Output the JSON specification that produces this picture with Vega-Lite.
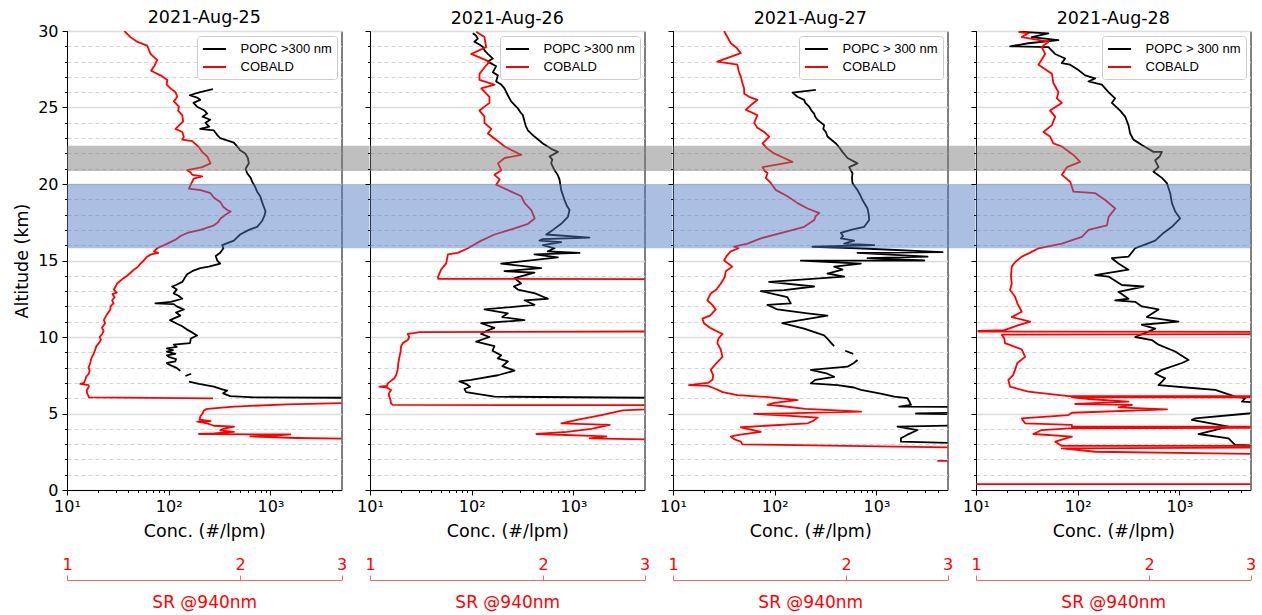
{
"$schema": "https://vega.github.io/schema/vega-lite/v6.json",
"background": "white",
"padding": {"left": 13, "top": 8, "right": 13, "bottom": 4},
"bounds": "flush",
"spacing": 28,
"config": {
  "font": "DejaVu Sans",
  "view": {"stroke": "black", "strokeWidth": 1},
  "axis": {"labelFont": "DejaVu Sans", "titleFont": "DejaVu Sans", "labelColor": "black", "titleColor": "black", "domainColor": "black", "tickColor": "black", "titleFontWeight": "normal", "labelFontSize": 16, "titleFontSize": 17.5},
  "title": {"font": "DejaVu Sans", "fontSize": 17.5, "fontWeight": "normal", "color": "black", "offset": 3}
},
"resolve": {"scale": {"color": "independent"}, "legend": {"color": "independent"}},
"datasets": {
"bands": [
{"d":25,"k":"g","a0":20.85,"a1":22.5,"c0":10,"c1":9430},{"d":25,"k":"b","a0":15.8,"a1":20.0,"c0":10,"c1":9430},
{"d":26,"k":"g","a0":20.85,"a1":22.5,"c0":10,"c1":9430},{"d":26,"k":"b","a0":15.8,"a1":20.0,"c0":10,"c1":9430},
{"d":27,"k":"g","a0":20.85,"a1":22.5,"c0":10,"c1":9430},{"d":27,"k":"b","a0":15.8,"a1":20.0,"c0":10,"c1":9430},
{"d":28,"k":"g","a0":20.85,"a1":22.5,"c0":10,"c1":5000},{"d":28,"k":"b","a0":15.8,"a1":20.0,"c0":10,"c1":5000}
],
"popc": [
{"d":25,"s":1,"a":26.2,"c":272},{"d":25,"s":1,"a":26.0,"c":204},{"d":25,"s":1,"a":25.8,"c":161},{"d":25,"s":1,"a":25.65,"c":190},{"d":25,"s":1,"a":25.5,"c":204},{"d":25,"s":1,"a":25.3,"c":175},{"d":25,"s":1,"a":25.05,"c":190},{"d":25,"s":1,"a":24.8,"c":225},{"d":25,"s":1,"a":24.6,"c":239},{"d":25,"s":1,"a":24.4,"c":215},{"d":25,"s":1,"a":24.2,"c":256},{"d":25,"s":1,"a":24.0,"c":230},{"d":25,"s":1,"a":23.75,"c":250},{"d":25,"s":1,"a":23.6,"c":204},{"d":25,"s":1,"a":23.5,"c":278},{"d":25,"s":1,"a":23.2,"c":300},{"d":25,"s":1,"a":23.0,"c":321},{"d":25,"s":1,"a":22.7,"c":437},{"d":25,"s":1,"a":22.4,"c":480},{"d":25,"s":1,"a":22.2,"c":504},{"d":25,"s":1,"a":22.0,"c":565},{"d":25,"s":1,"a":21.7,"c":600},{"d":25,"s":1,"a":21.35,"c":614},{"d":25,"s":1,"a":21.0,"c":570},{"d":25,"s":1,"a":20.7,"c":591},{"d":25,"s":1,"a":20.4,"c":640},{"d":25,"s":1,"a":20.15,"c":662},{"d":25,"s":1,"a":19.8,"c":709},{"d":25,"s":1,"a":19.5,"c":740},{"d":25,"s":1,"a":19.2,"c":794},{"d":25,"s":1,"a":18.8,"c":830},{"d":25,"s":1,"a":18.5,"c":863},{"d":25,"s":1,"a":18.2,"c":895},{"d":25,"s":1,"a":17.9,"c":870},{"d":25,"s":1,"a":17.6,"c":831},{"d":25,"s":1,"a":17.2,"c":741},{"d":25,"s":1,"a":17.0,"c":614},{"d":25,"s":1,"a":16.7,"c":504},{"d":25,"s":1,"a":16.3,"c":437},{"d":25,"s":1,"a":16.0,"c":336},{"d":25,"s":1,"a":15.8,"c":345},{"d":25,"s":1,"a":15.5,"c":321},{"d":25,"s":1,"a":15.3,"c":290},{"d":25,"s":1,"a":15.0,"c":300},{"d":25,"s":1,"a":14.8,"c":321},{"d":25,"s":1,"a":14.6,"c":248},{"d":25,"s":1,"a":14.5,"c":204},{"d":25,"s":1,"a":14.3,"c":170},{"d":25,"s":1,"a":14.1,"c":152},{"d":25,"s":1,"a":13.9,"c":145},{"d":25,"s":1,"a":13.6,"c":136},{"d":25,"s":1,"a":13.4,"c":118},{"d":25,"s":1,"a":13.3,"c":108},{"d":25,"s":1,"a":13.1,"c":120},{"d":25,"s":1,"a":12.85,"c":112},{"d":25,"s":1,"a":12.7,"c":125},{"d":25,"s":1,"a":12.5,"c":136},{"d":25,"s":1,"a":12.3,"c":105},{"d":25,"s":1,"a":12.2,"c":74},{"d":25,"s":1,"a":12.15,"c":112},{"d":25,"s":1,"a":12.0,"c":120},{"d":25,"s":1,"a":11.8,"c":141},{"d":25,"s":1,"a":11.6,"c":118},{"d":25,"s":1,"a":11.4,"c":130},{"d":25,"s":1,"a":11.1,"c":103},{"d":25,"s":1,"a":10.9,"c":118},{"d":25,"s":1,"a":10.7,"c":136},{"d":25,"s":1,"a":10.5,"c":150},{"d":25,"s":1,"a":10.3,"c":170},{"d":25,"s":1,"a":10.1,"c":190},{"d":25,"s":1,"a":9.9,"c":165},{"d":25,"s":1,"a":9.6,"c":162},{"d":25,"s":1,"a":9.5,"c":112},{"d":25,"s":1,"a":9.35,"c":120},{"d":25,"s":1,"a":9.25,"c":96},{"d":25,"s":1,"a":9.15,"c":110},{"d":25,"s":1,"a":9.05,"c":96},{"d":25,"s":1,"a":8.9,"c":116},{"d":25,"s":1,"a":8.8,"c":96},{"d":25,"s":1,"a":8.7,"c":100},{"d":25,"s":1,"a":8.55,"c":118},{"d":25,"s":1,"a":8.4,"c":116},{"d":25,"s":1,"a":8.3,"c":96},{"d":25,"s":1,"a":8.2,"c":100},{"d":25,"s":1,"a":8.0,"c":118},{"d":25,"s":1,"a":7.8,"c":130},
{"d":25,"s":2,"a":7.45,"c":146},{"d":25,"s":2,"a":7.6,"c":166},
{"d":25,"s":3,"a":7.08,"c":158},{"d":25,"s":3,"a":6.93,"c":198},{"d":25,"s":3,"a":6.75,"c":278},{"d":25,"s":3,"a":6.58,"c":336},{"d":25,"s":3,"a":6.5,"c":376},{"d":25,"s":3,"a":6.32,"c":343},{"d":25,"s":3,"a":6.14,"c":402},{"d":25,"s":3,"a":6.06,"c":688},{"d":25,"s":3,"a":6.01,"c":20000},
{"d":26,"s":1,"a":29.85,"c":102.5},{"d":26,"s":1,"a":29.7,"c":110},{"d":26,"s":1,"a":29.5,"c":114.8},{"d":26,"s":1,"a":29.3,"c":106.3},{"d":26,"s":1,"a":29.1,"c":120},{"d":26,"s":1,"a":28.95,"c":128.6},{"d":26,"s":1,"a":28.7,"c":135},{"d":26,"s":1,"a":28.5,"c":144},{"d":26,"s":1,"a":28.2,"c":161.3},{"d":26,"s":1,"a":28.0,"c":144},{"d":26,"s":1,"a":27.7,"c":173.9},{"d":26,"s":1,"a":27.3,"c":161.3},{"d":26,"s":1,"a":27.1,"c":180.7},{"d":26,"s":1,"a":26.7,"c":173.9},{"d":26,"s":1,"a":26.5,"c":195},{"d":26,"s":1,"a":26.25,"c":209.8},{"d":26,"s":1,"a":25.8,"c":226.6},{"d":26,"s":1,"a":25.4,"c":244.2},{"d":26,"s":1,"a":24.95,"c":284.3},{"d":26,"s":1,"a":24.7,"c":300},{"d":26,"s":1,"a":24.5,"c":318.4},{"d":26,"s":1,"a":24.1,"c":330.1},{"d":26,"s":1,"a":23.8,"c":340},{"d":26,"s":1,"a":23.5,"c":356.6},{"d":26,"s":1,"a":23.1,"c":414.1},{"d":26,"s":1,"a":22.65,"c":501},{"d":26,"s":1,"a":22.3,"c":604.7},{"d":26,"s":1,"a":22.1,"c":703.9},{"d":26,"s":1,"a":21.8,"c":582},{"d":26,"s":1,"a":21.6,"c":620},{"d":26,"s":1,"a":21.35,"c":604.7},{"d":26,"s":1,"a":20.9,"c":651.6},{"d":26,"s":1,"a":20.6,"c":700},{"d":26,"s":1,"a":20.3,"c":729.8},{"d":26,"s":1,"a":19.6,"c":758.5},{"d":26,"s":1,"a":18.95,"c":817.6},{"d":26,"s":1,"a":18.6,"c":860},{"d":26,"s":1,"a":18.3,"c":915.4},{"d":26,"s":1,"a":17.85,"c":882.8},{"d":26,"s":1,"a":17.4,"c":758.5},{"d":26,"s":1,"a":17.0,"c":628.3},{"d":26,"s":1,"a":16.7,"c":540},{"d":26,"s":1,"a":16.5,"c":1440},{"d":26,"s":1,"a":16.4,"c":500},{"d":26,"s":1,"a":16.3,"c":463.8},{"d":26,"s":1,"a":16.2,"c":758.5},{"d":26,"s":1,"a":16.0,"c":501},{"d":26,"s":1,"a":15.8,"c":651.6},{"d":26,"s":1,"a":15.6,"c":560},{"d":26,"s":1,"a":15.5,"c":1148},{"d":26,"s":1,"a":15.4,"c":414.1},{"d":26,"s":1,"a":15.2,"c":703.9},{"d":26,"s":1,"a":14.8,"c":194.7},{"d":26,"s":1,"a":14.5,"c":482.1},{"d":26,"s":1,"a":14.3,"c":209.8},{"d":26,"s":1,"a":14.2,"c":414.1},{"d":26,"s":1,"a":13.85,"c":263.2},{"d":26,"s":1,"a":13.5,"c":306.4},{"d":26,"s":1,"a":13.3,"c":260},{"d":26,"s":1,"a":13.1,"c":284.3},{"d":26,"s":1,"a":12.85,"c":420},{"d":26,"s":1,"a":12.5,"c":561},{"d":26,"s":1,"a":12.4,"c":330.1},{"d":26,"s":1,"a":12.1,"c":414.1},{"d":26,"s":1,"a":11.8,"c":133.4},{"d":26,"s":1,"a":11.55,"c":226.6},{"d":26,"s":1,"a":11.3,"c":200},{"d":26,"s":1,"a":11.1,"c":330.1},{"d":26,"s":1,"a":10.9,"c":123.7},{"d":26,"s":1,"a":10.6,"c":167.3},{"d":26,"s":1,"a":10.4,"c":140},{"d":26,"s":1,"a":10.2,"c":123.7},{"d":26,"s":1,"a":10.0,"c":149.4},{"d":26,"s":1,"a":9.7,"c":110.5},{"d":26,"s":1,"a":9.4,"c":167.3},{"d":26,"s":1,"a":9.1,"c":160},{"d":26,"s":1,"a":8.8,"c":194.7},{"d":26,"s":1,"a":8.6,"c":180},{"d":26,"s":1,"a":8.4,"c":226.6},{"d":26,"s":1,"a":8.1,"c":200},{"d":26,"s":1,"a":7.8,"c":263.2},{"d":26,"s":1,"a":7.5,"c":180.7},{"d":26,"s":1,"a":7.3,"c":120},{"d":26,"s":1,"a":7.2,"c":98.6},{"d":26,"s":1,"a":7.1,"c":75.7},{"d":26,"s":1,"a":6.9,"c":90},{"d":26,"s":1,"a":6.75,"c":96.4},{"d":26,"s":1,"a":6.6,"c":85},{"d":26,"s":1,"a":6.4,"c":88.1},{"d":26,"s":1,"a":6.1,"c":167.3},{"d":26,"s":1,"a":6.0,"c":20000},
{"d":27,"s":1,"a":26.15,"c":253.8},{"d":27,"s":1,"a":25.97,"c":149.4},{"d":27,"s":1,"a":25.7,"c":167.3},{"d":27,"s":1,"a":25.5,"c":194.7},{"d":27,"s":1,"a":25.3,"c":200},{"d":27,"s":1,"a":25.05,"c":218.1},{"d":27,"s":1,"a":24.8,"c":230},{"d":27,"s":1,"a":24.6,"c":244.2},{"d":27,"s":1,"a":24.4,"c":250},{"d":27,"s":1,"a":24.2,"c":263.2},{"d":27,"s":1,"a":23.85,"c":306.4},{"d":27,"s":1,"a":23.6,"c":300},{"d":27,"s":1,"a":23.4,"c":318.4},{"d":27,"s":1,"a":23.1,"c":330.1},{"d":27,"s":1,"a":22.65,"c":399.4},{"d":27,"s":1,"a":22.4,"c":430},{"d":27,"s":1,"a":22.1,"c":463.8},{"d":27,"s":1,"a":21.7,"c":519.6},{"d":27,"s":1,"a":21.35,"c":651.6},{"d":27,"s":1,"a":21.1,"c":540},{"d":27,"s":1,"a":20.9,"c":560},{"d":27,"s":1,"a":20.7,"c":582},{"d":27,"s":1,"a":20.4,"c":575},{"d":27,"s":1,"a":20.05,"c":582},{"d":27,"s":1,"a":19.6,"c":651.6},{"d":27,"s":1,"a":19.3,"c":690},{"d":27,"s":1,"a":18.95,"c":729.8},{"d":27,"s":1,"a":18.4,"c":817.6},{"d":27,"s":1,"a":18.0,"c":840},{"d":27,"s":1,"a":17.65,"c":849.4},{"d":27,"s":1,"a":17.2,"c":758.5},{"d":27,"s":1,"a":17.0,"c":561},{"d":27,"s":1,"a":16.8,"c":447.3},{"d":27,"s":1,"a":16.6,"c":470},{"d":27,"s":1,"a":16.45,"c":447.3},{"d":27,"s":1,"a":16.3,"c":604.7},{"d":27,"s":1,"a":16.1,"c":482.1},{"d":27,"s":1,"a":16.0,"c":951.3},{"d":27,"s":1,"a":15.9,"c":235},{"d":27,"s":1,"a":15.8,"c":651.6},{"d":27,"s":1,"a":15.55,"c":4474},{"d":27,"s":1,"a":15.5,"c":651.6},{"d":27,"s":1,"a":15.25,"c":3184},{"d":27,"s":1,"a":15.15,"c":817.6},{"d":27,"s":1,"a":15.0,"c":2954},{"d":27,"s":1,"a":14.99,"c":180.7},{"d":27,"s":1,"a":14.8,"c":703.9},{"d":27,"s":1,"a":14.6,"c":384.2},{"d":27,"s":1,"a":14.4,"c":463.8},{"d":27,"s":1,"a":14.15,"c":330.1},{"d":27,"s":1,"a":13.95,"c":482.1},{"d":27,"s":1,"a":13.6,"c":88.1},{"d":27,"s":1,"a":13.3,"c":244.2},{"d":27,"s":1,"a":13.07,"c":123.7},{"d":27,"s":1,"a":13.0,"c":73},{"d":27,"s":1,"a":12.6,"c":133.4},{"d":27,"s":1,"a":12.2,"c":144},{"d":27,"s":1,"a":12.1,"c":84.8},{"d":27,"s":1,"a":11.8,"c":106.3},{"d":27,"s":1,"a":11.55,"c":209.8},{"d":27,"s":1,"a":11.4,"c":330.1},{"d":27,"s":1,"a":10.9,"c":119.1},{"d":27,"s":1,"a":10.55,"c":194.7},{"d":27,"s":1,"a":10.3,"c":250},{"d":27,"s":1,"a":10.1,"c":306.4},{"d":27,"s":1,"a":9.8,"c":340},{"d":27,"s":1,"a":9.6,"c":360},{"d":27,"s":1,"a":9.4,"c":384.2},
{"d":27,"s":2,"a":9.1,"c":493.1},{"d":27,"s":2,"a":8.9,"c":592},
{"d":27,"s":3,"a":8.5,"c":651.6},{"d":27,"s":3,"a":8.3,"c":600},{"d":27,"s":3,"a":8.06,"c":519.6},{"d":27,"s":3,"a":7.85,"c":226.6},{"d":27,"s":3,"a":7.6,"c":330},{"d":27,"s":3,"a":7.4,"c":384.2},{"d":27,"s":3,"a":7.2,"c":250},{"d":27,"s":3,"a":6.97,"c":226.6},{"d":27,"s":3,"a":6.86,"c":414.1},{"d":27,"s":3,"a":6.7,"c":600},{"d":27,"s":3,"a":6.54,"c":703.9},{"d":27,"s":3,"a":6.3,"c":1100},{"d":27,"s":3,"a":6.1,"c":1497},{"d":27,"s":3,"a":6.0,"c":2023},{"d":27,"s":3,"a":5.8,"c":2100},{"d":27,"s":3,"a":5.56,"c":2185},{"d":27,"s":3,"a":5.45,"c":1676},{"d":27,"s":3,"a":5.4,"c":20000},{"d":27,"s":3,"a":5.1,"c":20000},{"d":27,"s":3,"a":5.0,"c":2448},{"d":27,"s":3,"a":4.9,"c":20000},{"d":27,"s":3,"a":4.3,"c":20000},{"d":27,"s":3,"a":4.14,"c":1614},{"d":27,"s":3,"a":3.92,"c":2538},{"d":27,"s":3,"a":3.6,"c":2000},{"d":27,"s":3,"a":3.38,"c":1742},{"d":27,"s":3,"a":3.16,"c":1742},{"d":27,"s":3,"a":2.98,"c":20000},
{"d":28,"s":1,"a":29.95,"c":27.1},{"d":28,"s":1,"a":29.85,"c":51.5},{"d":28,"s":1,"a":29.6,"c":35.3},{"d":28,"s":1,"a":29.4,"c":64.6},{"d":28,"s":1,"a":29.2,"c":32.7},{"d":28,"s":1,"a":29.0,"c":21.6},{"d":28,"s":1,"a":28.95,"c":51.5},{"d":28,"s":1,"a":28.5,"c":59.9},{"d":28,"s":1,"a":28.2,"c":75.2},{"d":28,"s":1,"a":27.9,"c":69.7},{"d":28,"s":1,"a":27.8,"c":84.2},{"d":28,"s":1,"a":27.45,"c":101.6},{"d":28,"s":1,"a":27.1,"c":118.3},{"d":28,"s":1,"a":26.9,"c":148.3},{"d":28,"s":1,"a":26.7,"c":127.5},{"d":28,"s":1,"a":26.5,"c":172.7},{"d":28,"s":1,"a":26.0,"c":200.5},{"d":28,"s":1,"a":25.6,"c":233.4},{"d":28,"s":1,"a":25.3,"c":216.6},{"d":28,"s":1,"a":24.8,"c":261.4},{"d":28,"s":1,"a":24.4,"c":292.8},{"d":28,"s":1,"a":23.85,"c":315.5},{"d":28,"s":1,"a":23.3,"c":327.9},{"d":28,"s":1,"a":22.9,"c":353.4},{"d":28,"s":1,"a":22.55,"c":427.4},{"d":28,"s":1,"a":22.1,"c":556},{"d":28,"s":1,"a":22.1,"c":672.8},{"d":28,"s":1,"a":21.8,"c":640},{"d":28,"s":1,"a":21.55,"c":578},{"d":28,"s":1,"a":21.1,"c":622.8},{"d":28,"s":1,"a":20.8,"c":556},{"d":28,"s":1,"a":20.4,"c":672.8},{"d":28,"s":1,"a":20.05,"c":753.4},{"d":28,"s":1,"a":19.4,"c":812},{"d":28,"s":1,"a":18.75,"c":843.9},{"d":28,"s":1,"a":18.2,"c":909.3},{"d":28,"s":1,"a":17.75,"c":1018},{"d":28,"s":1,"a":17.2,"c":843.9},{"d":28,"s":1,"a":16.8,"c":697.5},{"d":28,"s":1,"a":16.3,"c":578},{"d":28,"s":1,"a":16.0,"c":443.3},{"d":28,"s":1,"a":15.8,"c":367.3},{"d":28,"s":1,"a":15.25,"c":315.5},{"d":28,"s":1,"a":15.15,"c":216.6},{"d":28,"s":1,"a":14.8,"c":251.5},{"d":28,"s":1,"a":14.4,"c":315.5},{"d":28,"s":1,"a":14.05,"c":148.3},{"d":28,"s":1,"a":13.95,"c":200.5},{"d":28,"s":1,"a":13.4,"c":271.6},{"d":28,"s":1,"a":13.3,"c":443.3},{"d":28,"s":1,"a":12.95,"c":251.5},{"d":28,"s":1,"a":12.5,"c":315.5},{"d":28,"s":1,"a":12.4,"c":233.4},{"d":28,"s":1,"a":12.3,"c":367.3},{"d":28,"s":1,"a":12.0,"c":427.4},{"d":28,"s":1,"a":11.8,"c":622.8},{"d":28,"s":1,"a":11.3,"c":478.7},{"d":28,"s":1,"a":11.0,"c":979.8},{"d":28,"s":1,"a":10.8,"c":427.4},{"d":28,"s":1,"a":10.55,"c":578},{"d":28,"s":1,"a":10.35,"c":496.4},{"d":28,"s":1,"a":10.0,"c":367.3},{"d":28,"s":1,"a":9.8,"c":536.3},{"d":28,"s":1,"a":9.5,"c":622.8},{"d":28,"s":1,"a":9.05,"c":909.3},{"d":28,"s":1,"a":8.5,"c":1229},{"d":28,"s":1,"a":8.3,"c":1058},{"d":28,"s":1,"a":7.85,"c":672.8},{"d":28,"s":1,"a":7.6,"c":578},{"d":28,"s":1,"a":7.3,"c":724.7},{"d":28,"s":1,"a":6.86,"c":622.8},{"d":28,"s":1,"a":6.65,"c":1431},{"d":28,"s":1,"a":6.54,"c":2251},{"d":28,"s":1,"a":6.1,"c":3541},{"d":28,"s":1,"a":6.0,"c":4443},{"d":28,"s":1,"a":5.77,"c":4124},{"d":28,"s":1,"a":5.56,"c":20000},{"d":28,"s":1,"a":5.1,"c":20000},{"d":28,"s":1,"a":5.0,"c":4756},{"d":28,"s":1,"a":4.68,"c":1431},{"d":28,"s":1,"a":4.58,"c":1327},{"d":28,"s":1,"a":4.14,"c":3042},{"d":28,"s":1,"a":3.66,"c":1542},{"d":28,"s":1,"a":3.38,"c":3042},{"d":28,"s":1,"a":2.94,"c":3541},{"d":28,"s":1,"a":2.83,"c":20000}
],
"cobald": [
{"d":25,"s":1,"a":30.0,"r":1.258},{"d":25,"s":1,"a":29.6,"r":1.289},{"d":25,"s":1,"a":29.3,"r":1.324},{"d":25,"s":1,"a":29.05,"r":1.378},{"d":25,"s":1,"a":28.5,"r":1.397},{"d":25,"s":1,"a":28.1,"r":1.435},{"d":25,"s":1,"a":27.75,"r":1.42},{"d":25,"s":1,"a":27.4,"r":1.4},{"d":25,"s":1,"a":27.1,"r":1.454},{"d":25,"s":1,"a":26.8,"r":1.494},{"d":25,"s":1,"a":26.5,"r":1.49},{"d":25,"s":1,"a":26.25,"r":1.513},{"d":25,"s":1,"a":26.0,"r":1.544},{"d":25,"s":1,"a":25.7,"r":1.555},{"d":25,"s":1,"a":25.4,"r":1.534},{"d":25,"s":1,"a":25.05,"r":1.565},{"d":25,"s":1,"a":24.8,"r":1.56},{"d":25,"s":1,"a":24.5,"r":1.586},{"d":25,"s":1,"a":24.1,"r":1.592},{"d":25,"s":1,"a":23.6,"r":1.544},{"d":25,"s":1,"a":23.4,"r":1.586},{"d":25,"s":1,"a":23.1,"r":1.596},{"d":25,"s":1,"a":22.9,"r":1.586},{"d":25,"s":1,"a":22.8,"r":1.651},{"d":25,"s":1,"a":22.4,"r":1.696},{"d":25,"s":1,"a":22.1,"r":1.718},{"d":25,"s":1,"a":21.8,"r":1.753},{"d":25,"s":1,"a":21.35,"r":1.776},{"d":25,"s":1,"a":21.1,"r":1.718},{"d":25,"s":1,"a":20.9,"r":1.618},{"d":25,"s":1,"a":20.75,"r":1.64},{"d":25,"s":1,"a":20.6,"r":1.651},{"d":25,"s":1,"a":20.5,"r":1.718},{"d":25,"s":1,"a":20.35,"r":1.66},{"d":25,"s":1,"a":20.15,"r":1.651},{"d":25,"s":1,"a":19.7,"r":1.629},{"d":25,"s":1,"a":19.6,"r":1.707},{"d":25,"s":1,"a":19.4,"r":1.776},{"d":25,"s":1,"a":19.1,"r":1.801},{"d":25,"s":1,"a":18.8,"r":1.849},{"d":25,"s":1,"a":18.5,"r":1.87},{"d":25,"s":1,"a":18.3,"r":1.899},{"d":25,"s":1,"a":18.2,"r":1.925},{"d":25,"s":1,"a":17.95,"r":1.88},{"d":25,"s":1,"a":17.75,"r":1.849},{"d":25,"s":1,"a":17.5,"r":1.83},{"d":25,"s":1,"a":17.3,"r":1.801},{"d":25,"s":1,"a":17.0,"r":1.707},{"d":25,"s":1,"a":16.8,"r":1.618},{"d":25,"s":1,"a":16.6,"r":1.575},{"d":25,"s":1,"a":16.4,"r":1.55},{"d":25,"s":1,"a":16.1,"r":1.494},{"d":25,"s":1,"a":15.8,"r":1.435},{"d":25,"s":1,"a":15.6,"r":1.416},{"d":25,"s":1,"a":15.5,"r":1.44},{"d":25,"s":1,"a":15.4,"r":1.4},{"d":25,"s":1,"a":15.25,"r":1.378},{"d":25,"s":1,"a":15.0,"r":1.36},{"d":25,"s":1,"a":14.8,"r":1.342},{"d":25,"s":1,"a":14.6,"r":1.33},{"d":25,"s":1,"a":14.4,"r":1.307},{"d":25,"s":1,"a":14.2,"r":1.29},{"d":25,"s":1,"a":14.0,"r":1.272},{"d":25,"s":1,"a":13.8,"r":1.25},{"d":25,"s":1,"a":13.5,"r":1.222},{"d":25,"s":1,"a":13.3,"r":1.215},{"d":25,"s":1,"a":13.1,"r":1.206},{"d":25,"s":1,"a":12.9,"r":1.22},{"d":25,"s":1,"a":12.8,"r":1.2},{"d":25,"s":1,"a":12.6,"r":1.21},{"d":25,"s":1,"a":12.4,"r":1.198},{"d":25,"s":1,"a":12.2,"r":1.205},{"d":25,"s":1,"a":12.0,"r":1.19},{"d":25,"s":1,"a":11.8,"r":1.19},{"d":25,"s":1,"a":11.6,"r":1.18},{"d":25,"s":1,"a":11.4,"r":1.17},{"d":25,"s":1,"a":11.1,"r":1.159},{"d":25,"s":1,"a":10.9,"r":1.165},{"d":25,"s":1,"a":10.6,"r":1.15},{"d":25,"s":1,"a":10.4,"r":1.158},{"d":25,"s":1,"a":10.2,"r":1.151},{"d":25,"s":1,"a":10.0,"r":1.14},{"d":25,"s":1,"a":9.8,"r":1.145},{"d":25,"s":1,"a":9.6,"r":1.136},{"d":25,"s":1,"a":9.4,"r":1.125},{"d":25,"s":1,"a":9.2,"r":1.12},{"d":25,"s":1,"a":8.9,"r":1.113},{"d":25,"s":1,"a":8.7,"r":1.105},{"d":25,"s":1,"a":8.5,"r":1.1},{"d":25,"s":1,"a":8.3,"r":1.098},{"d":25,"s":1,"a":8.0,"r":1.09},{"d":25,"s":1,"a":7.8,"r":1.095},{"d":25,"s":1,"a":7.6,"r":1.091},{"d":25,"s":1,"a":7.4,"r":1.08},{"d":25,"s":1,"a":7.2,"r":1.076},{"d":25,"s":1,"a":7.0,"r":1.07},{"d":25,"s":1,"a":6.93,"r":1.055},{"d":25,"s":1,"a":6.85,"r":1.09},{"d":25,"s":1,"a":6.75,"r":1.091},{"d":25,"s":1,"a":6.5,"r":1.082},{"d":25,"s":1,"a":6.3,"r":1.084},{"d":25,"s":1,"a":6.15,"r":1.09},{"d":25,"s":1,"a":6.06,"r":1.091},{"d":25,"s":1,"a":5.99,"r":1.794},
{"d":25,"s":2,"a":5.77,"r":4},{"d":25,"s":2,"a":5.6,"r":2.414},{"d":25,"s":2,"a":5.45,"r":1.951},{"d":25,"s":2,"a":5.3,"r":1.753},{"d":25,"s":2,"a":5.2,"r":1.73},{"d":25,"s":2,"a":5.0,"r":1.72},{"d":25,"s":2,"a":4.8,"r":1.705},{"d":25,"s":2,"a":4.6,"r":1.7},{"d":25,"s":2,"a":4.5,"r":1.776},{"d":25,"s":2,"a":4.47,"r":1.684},{"d":25,"s":2,"a":4.35,"r":1.753},{"d":25,"s":2,"a":4.2,"r":1.8},{"d":25,"s":2,"a":4.14,"r":1.951},{"d":25,"s":2,"a":4.0,"r":1.87},{"d":25,"s":2,"a":3.9,"r":1.847},{"d":25,"s":2,"a":3.8,"r":1.951},{"d":25,"s":2,"a":3.7,"r":1.8},{"d":25,"s":2,"a":3.66,"r":1.696},{"d":25,"s":2,"a":3.63,"r":2.445},{"d":25,"s":2,"a":3.55,"r":2.3},{"d":25,"s":2,"a":3.5,"r":2.083},{"d":25,"s":2,"a":3.4,"r":2.5},{"d":25,"s":2,"a":3.3,"r":4},
{"d":26,"s":1,"a":29.95,"r":1.53},{"d":26,"s":1,"a":29.6,"r":1.581},{"d":26,"s":1,"a":28.95,"r":1.592},{"d":26,"s":1,"a":28.5,"r":1.499},{"d":26,"s":1,"a":28.0,"r":1.613},{"d":26,"s":1,"a":27.6,"r":1.58},{"d":26,"s":1,"a":27.2,"r":1.55},{"d":26,"s":1,"a":26.8,"r":1.55},{"d":26,"s":1,"a":26.5,"r":1.646},{"d":26,"s":1,"a":26.25,"r":1.561},{"d":26,"s":1,"a":25.7,"r":1.613},{"d":26,"s":1,"a":25.3,"r":1.613},{"d":26,"s":1,"a":24.8,"r":1.55},{"d":26,"s":1,"a":24.4,"r":1.581},{"d":26,"s":1,"a":24.0,"r":1.581},{"d":26,"s":1,"a":23.6,"r":1.625},{"d":26,"s":1,"a":23.3,"r":1.603},{"d":26,"s":1,"a":22.8,"r":1.669},{"d":26,"s":1,"a":22.45,"r":1.714},{"d":26,"s":1,"a":22.0,"r":1.808},{"d":26,"s":1,"a":21.9,"r":1.832},{"d":26,"s":1,"a":21.7,"r":1.714},{"d":26,"s":1,"a":21.35,"r":1.669},{"d":26,"s":1,"a":20.9,"r":1.691},{"d":26,"s":1,"a":20.6,"r":1.646},{"d":26,"s":1,"a":20.3,"r":1.68},{"d":26,"s":1,"a":19.95,"r":1.657},{"d":26,"s":1,"a":19.5,"r":1.76},{"d":26,"s":1,"a":19.2,"r":1.832},{"d":26,"s":1,"a":18.75,"r":1.857},{"d":26,"s":1,"a":18.3,"r":1.907},{"d":26,"s":1,"a":17.75,"r":1.933},{"d":26,"s":1,"a":17.4,"r":1.882},{"d":26,"s":1,"a":17.1,"r":1.784},{"d":26,"s":1,"a":16.7,"r":1.646},{"d":26,"s":1,"a":16.3,"r":1.561},{"d":26,"s":1,"a":15.8,"r":1.48},{"d":26,"s":1,"a":15.5,"r":1.421},{"d":26,"s":1,"a":15.4,"r":1.366},{"d":26,"s":1,"a":14.8,"r":1.356},{"d":26,"s":1,"a":14.4,"r":1.329},{"d":26,"s":1,"a":13.9,"r":1.312},{"d":26,"s":1,"a":13.8,"r":1.315},{"d":26,"s":1,"a":13.78,"r":4},{"d":26,"s":1,"a":10.37,"r":4},{"d":26,"s":1,"a":10.32,"r":1.219},{"d":26,"s":1,"a":10.25,"r":1.19},{"d":26,"s":1,"a":10.2,"r":1.163},{"d":26,"s":1,"a":10.0,"r":1.17},{"d":26,"s":1,"a":9.8,"r":1.163},{"d":26,"s":1,"a":9.6,"r":1.14},{"d":26,"s":1,"a":9.37,"r":1.132},{"d":26,"s":1,"a":9.0,"r":1.13},{"d":26,"s":1,"a":8.7,"r":1.125},{"d":26,"s":1,"a":8.3,"r":1.12},{"d":26,"s":1,"a":7.85,"r":1.117},{"d":26,"s":1,"a":7.5,"r":1.11},{"d":26,"s":1,"a":7.3,"r":1.102},{"d":26,"s":1,"a":7.1,"r":1.085},{"d":26,"s":1,"a":6.97,"r":1.074},{"d":26,"s":1,"a":6.8,"r":1.07},{"d":26,"s":1,"a":6.75,"r":1.038},{"d":26,"s":1,"a":6.7,"r":1.07},{"d":26,"s":1,"a":6.54,"r":1.088},{"d":26,"s":1,"a":6.3,"r":1.078},{"d":26,"s":1,"a":6.1,"r":1.08},{"d":26,"s":1,"a":5.9,"r":1.085},{"d":26,"s":1,"a":5.66,"r":1.088},{"d":26,"s":1,"a":5.56,"r":1.095},{"d":26,"s":1,"a":5.54,"r":4},{"d":26,"s":1,"a":5.47,"r":4},{"d":26,"s":1,"a":5.2,"r":2.75},{"d":26,"s":1,"a":4.9,"r":2.525},{"d":26,"s":1,"a":4.6,"r":2.3},{"d":26,"s":1,"a":4.36,"r":2.151},{"d":26,"s":1,"a":4.25,"r":2.611},{"d":26,"s":1,"a":4.0,"r":2.426},{"d":26,"s":1,"a":3.8,"r":2.2},{"d":26,"s":1,"a":3.66,"r":1.946},{"d":26,"s":1,"a":3.5,"r":2.576},{"d":26,"s":1,"a":3.38,"r":2.409},{"d":26,"s":1,"a":3.22,"r":4},
{"d":27,"s":1,"a":30.0,"r":1.227},{"d":27,"s":1,"a":29.2,"r":1.26},{"d":27,"s":1,"a":28.9,"r":1.29},{"d":27,"s":1,"a":28.55,"r":1.312},{"d":27,"s":1,"a":28.0,"r":1.194},{"d":27,"s":1,"a":27.8,"r":1.294},{"d":27,"s":1,"a":27.4,"r":1.3},{"d":27,"s":1,"a":27.0,"r":1.312},{"d":27,"s":1,"a":26.6,"r":1.32},{"d":27,"s":1,"a":26.25,"r":1.329},{"d":27,"s":1,"a":25.9,"r":1.33},{"d":27,"s":1,"a":25.7,"r":1.356},{"d":27,"s":1,"a":25.5,"r":1.402},{"d":27,"s":1,"a":25.2,"r":1.37},{"d":27,"s":1,"a":24.85,"r":1.338},{"d":27,"s":1,"a":24.5,"r":1.402},{"d":27,"s":1,"a":24.0,"r":1.384},{"d":27,"s":1,"a":23.7,"r":1.4},{"d":27,"s":1,"a":23.4,"r":1.44},{"d":27,"s":1,"a":23.1,"r":1.47},{"d":27,"s":1,"a":22.65,"r":1.431},{"d":27,"s":1,"a":22.3,"r":1.46},{"d":27,"s":1,"a":22.0,"r":1.499},{"d":27,"s":1,"a":21.7,"r":1.56},{"d":27,"s":1,"a":21.45,"r":1.613},{"d":27,"s":1,"a":21.1,"r":1.431},{"d":27,"s":1,"a":20.9,"r":1.44},{"d":27,"s":1,"a":20.7,"r":1.46},{"d":27,"s":1,"a":20.4,"r":1.45},{"d":27,"s":1,"a":20.05,"r":1.48},{"d":27,"s":1,"a":19.6,"r":1.51},{"d":27,"s":1,"a":19.2,"r":1.581},{"d":27,"s":1,"a":18.75,"r":1.646},{"d":27,"s":1,"a":18.4,"r":1.714},{"d":27,"s":1,"a":18.1,"r":1.796},{"d":27,"s":1,"a":17.9,"r":1.77},{"d":27,"s":1,"a":17.65,"r":1.76},{"d":27,"s":1,"a":17.2,"r":1.691},{"d":27,"s":1,"a":16.9,"r":1.581},{"d":27,"s":1,"a":16.45,"r":1.421},{"d":27,"s":1,"a":16.1,"r":1.347},{"d":27,"s":1,"a":15.9,"r":1.277},{"d":27,"s":1,"a":15.8,"r":1.3},{"d":27,"s":1,"a":15.6,"r":1.26},{"d":27,"s":1,"a":15.3,"r":1.24},{"d":27,"s":1,"a":15.0,"r":1.227},{"d":27,"s":1,"a":14.6,"r":1.268},{"d":27,"s":1,"a":14.3,"r":1.235},{"d":27,"s":1,"a":13.9,"r":1.23},{"d":27,"s":1,"a":13.5,"r":1.211},{"d":27,"s":1,"a":13.1,"r":1.19},{"d":27,"s":1,"a":12.85,"r":1.163},{"d":27,"s":1,"a":12.4,"r":1.147},{"d":27,"s":1,"a":12.1,"r":1.17},{"d":27,"s":1,"a":11.8,"r":1.187},{"d":27,"s":1,"a":11.4,"r":1.16},{"d":27,"s":1,"a":11.2,"r":1.125},{"d":27,"s":1,"a":10.9,"r":1.132},{"d":27,"s":1,"a":10.6,"r":1.16},{"d":27,"s":1,"a":10.2,"r":1.219},{"d":27,"s":1,"a":9.9,"r":1.2},{"d":27,"s":1,"a":9.6,"r":1.194},{"d":27,"s":1,"a":9.2,"r":1.21},{"d":27,"s":1,"a":8.7,"r":1.219},{"d":27,"s":1,"a":8.3,"r":1.19},{"d":27,"s":1,"a":7.85,"r":1.163},{"d":27,"s":1,"a":7.5,"r":1.175},{"d":27,"s":1,"a":7.2,"r":1.171},{"d":27,"s":1,"a":7.0,"r":1.15},{"d":27,"s":1,"a":6.86,"r":1.066},{"d":27,"s":1,"a":6.8,"r":1.15},{"d":27,"s":1,"a":6.65,"r":1.179},{"d":27,"s":1,"a":6.4,"r":1.22},{"d":27,"s":1,"a":6.2,"r":1.294},{"d":27,"s":1,"a":6.06,"r":1.48},{"d":27,"s":1,"a":5.88,"r":1.646},{"d":27,"s":1,"a":5.7,"r":1.5},{"d":27,"s":1,"a":5.56,"r":1.46},{"d":27,"s":1,"a":5.49,"r":1.54},{"d":27,"s":1,"a":5.3,"r":1.7},{"d":27,"s":1,"a":5.12,"r":2.123},{"d":27,"s":1,"a":4.97,"r":1.384},{"d":27,"s":1,"a":4.85,"r":1.6},{"d":27,"s":1,"a":4.73,"r":1.784},{"d":27,"s":1,"a":4.5,"r":1.75},{"d":27,"s":1,"a":4.36,"r":1.714},{"d":27,"s":1,"a":4.2,"r":1.45},{"d":27,"s":1,"a":4.1,"r":1.312},{"d":27,"s":1,"a":3.8,"r":1.421},{"d":27,"s":1,"a":3.6,"r":1.3},{"d":27,"s":1,"a":3.49,"r":1.26},{"d":27,"s":1,"a":3.3,"r":1.28},{"d":27,"s":1,"a":3.16,"r":1.312},{"d":27,"s":1,"a":2.98,"r":1.32},{"d":27,"s":1,"a":2.72,"r":4},
{"d":27,"s":2,"a":1.9,"r":2.88},{"d":27,"s":2,"a":1.9,"r":4},
{"d":28,"s":1,"a":29.95,"r":1.185},{"d":28,"s":1,"a":29.85,"r":1.233},{"d":28,"s":1,"a":29.6,"r":1.201},{"d":28,"s":1,"a":29.3,"r":1.336},{"d":28,"s":1,"a":28.95,"r":1.301},{"d":28,"s":1,"a":28.5,"r":1.319},{"d":28,"s":1,"a":27.8,"r":1.284},{"d":28,"s":1,"a":27.2,"r":1.355},{"d":28,"s":1,"a":26.6,"r":1.363},{"d":28,"s":1,"a":26.0,"r":1.391},{"d":28,"s":1,"a":25.6,"r":1.382},{"d":28,"s":1,"a":25.3,"r":1.41},{"d":28,"s":1,"a":24.8,"r":1.345},{"d":28,"s":1,"a":24.4,"r":1.373},{"d":28,"s":1,"a":23.85,"r":1.355},{"d":28,"s":1,"a":23.4,"r":1.31},{"d":28,"s":1,"a":23.1,"r":1.345},{"d":28,"s":1,"a":22.65,"r":1.363},{"d":28,"s":1,"a":22.45,"r":1.41},{"d":28,"s":1,"a":21.9,"r":1.477},{"d":28,"s":1,"a":21.45,"r":1.517},{"d":28,"s":1,"a":21.1,"r":1.439},{"d":28,"s":1,"a":20.6,"r":1.41},{"d":28,"s":1,"a":20.15,"r":1.458},{"d":28,"s":1,"a":19.5,"r":1.477},{"d":28,"s":1,"a":19.4,"r":1.612},{"d":28,"s":1,"a":18.95,"r":1.677},{"d":28,"s":1,"a":18.4,"r":1.746},{"d":28,"s":1,"a":17.85,"r":1.7},{"d":28,"s":1,"a":17.3,"r":1.689},{"d":28,"s":1,"a":17.0,"r":1.569},{"d":28,"s":1,"a":16.55,"r":1.528},{"d":28,"s":1,"a":16.1,"r":1.41},{"d":28,"s":1,"a":15.8,"r":1.284},{"d":28,"s":1,"a":15.5,"r":1.24},{"d":28,"s":1,"a":15.25,"r":1.201},{"d":28,"s":1,"a":14.9,"r":1.17},{"d":28,"s":1,"a":14.6,"r":1.154},{"d":28,"s":1,"a":14.0,"r":1.15},{"d":28,"s":1,"a":13.5,"r":1.154},{"d":28,"s":1,"a":13.07,"r":1.146},{"d":28,"s":1,"a":12.65,"r":1.169},{"d":28,"s":1,"a":12.2,"r":1.18},{"d":28,"s":1,"a":11.65,"r":1.201},{"d":28,"s":1,"a":11.3,"r":1.154},{"d":28,"s":1,"a":11.0,"r":1.242},{"d":28,"s":1,"a":10.7,"r":1.169},{"d":28,"s":1,"a":10.45,"r":1.12},{"d":28,"s":1,"a":10.4,"r":1.009},{"d":28,"s":1,"a":10.35,"r":1.01},{"d":28,"s":1,"a":10.33,"r":4},{"d":28,"s":1,"a":10.2,"r":4},{"d":28,"s":1,"a":10.15,"r":1.11},{"d":28,"s":1,"a":10.13,"r":1.109},{"d":28,"s":1,"a":9.9,"r":1.12},{"d":28,"s":1,"a":9.6,"r":1.123},{"d":28,"s":1,"a":9.2,"r":1.2},{"d":28,"s":1,"a":8.7,"r":1.217},{"d":28,"s":1,"a":8.3,"r":1.18},{"d":28,"s":1,"a":7.85,"r":1.169},{"d":28,"s":1,"a":7.5,"r":1.16},{"d":28,"s":1,"a":7.2,"r":1.138},{"d":28,"s":1,"a":6.75,"r":1.146},{"d":28,"s":1,"a":6.43,"r":1.233},{"d":28,"s":1,"a":6.14,"r":1.448},{"d":28,"s":1,"a":6.14,"r":4},{"d":28,"s":1,"a":6.06,"r":4},{"d":28,"s":1,"a":6.06,"r":1.468},{"d":28,"s":1,"a":5.93,"r":1.59},{"d":28,"s":1,"a":5.77,"r":1.842},{"d":28,"s":1,"a":5.62,"r":1.487},{"d":28,"s":1,"a":5.56,"r":1.867},{"d":28,"s":1,"a":5.4,"r":1.769},{"d":28,"s":1,"a":5.27,"r":2.148},{"d":28,"s":1,"a":5.05,"r":1.468},{"d":28,"s":1,"a":4.9,"r":1.448},{"d":28,"s":1,"a":4.68,"r":1.201},{"d":28,"s":1,"a":4.36,"r":1.217},{"d":28,"s":1,"a":4.25,"r":1.468},{"d":28,"s":1,"a":4.14,"r":1.468},{"d":28,"s":1,"a":4.14,"r":4},{"d":28,"s":1,"a":4.07,"r":4},{"d":28,"s":1,"a":4.03,"r":1.448},{"d":28,"s":1,"a":3.92,"r":1.301},{"d":28,"s":1,"a":3.66,"r":1.258},{"d":28,"s":1,"a":3.49,"r":1.468},{"d":28,"s":1,"a":3.16,"r":1.373},{"d":28,"s":1,"a":2.88,"r":1.41},{"d":28,"s":1,"a":2.88,"r":4},{"d":28,"s":1,"a":2.79,"r":4},{"d":28,"s":1,"a":2.72,"r":1.41},{"d":28,"s":1,"a":2.5,"r":1.612},{"d":28,"s":1,"a":2.29,"r":4},
{"d":28,"s":2,"a":0.39,"r":0.9},{"d":28,"s":2,"a":0.39,"r":4}
]
},
"hconcat": [
{
 "width": 274.5, "height": 459,
 "title": {"text": "2021-Aug-25", "offset": -3},
 "resolve": {"scale": {"x": "independent"}, "axis": {"y": "independent"}},
 "layer": [
  {"data": {"name": "popc"}, "transform": [{"filter": "datum.d === 25"}],
   "mark": {"type": "line", "clip": true, "strokeWidth": 1.8, "strokeJoin": "round"},
   "encoding": {
    "x": {"field": "c", "type": "quantitative", "scale": {"type": "log", "domain": [10, 5000], "nice": false}, "axis": {"orient": "bottom", "values": [10, 100, 1000], "labelExpr": "datum.value === 10 ? '10¹' : datum.value === 100 ? '10²' : '10³'", "tickSize": 5, "labelFlush": false, "labelOverlap": false, "labelPadding": 3, "title": "Conc. (#/lpm)", "titlePadding": 8, "grid": false}},
    "y": {"field": "a", "type": "quantitative", "scale": {"domain": [0, 30], "nice": false}, "axis": {"orient": "left", "values": [0, 5, 10, 15, 20, 25, 30], "tickSize": 5, "grid": true, "gridColor": "#dcdcdc", "gridWidth": 1.3, "labelPadding": 4, "title": "Altitude (km)", "titlePadding": 6}},
    "detail": {"field": "s", "type": "nominal"},
    "order": {"value": null},
    "color": {"datum": "POPC >300 nm", "type": "nominal", "scale": {"domain": ["POPC >300 nm", "COBALD"], "range": ["black", "red"]}, "legend": {"orient": "top-right", "offset": 5, "title": null, "fillColor": "white", "strokeColor": "#cccccc", "cornerRadius": 3, "padding": 5, "labelFont": "Liberation Sans", "labelFontSize": 13, "labelColor": "black", "symbolType": "M-1.65,0H1.65", "symbolSize": 196, "symbolStrokeWidth": 2, "symbolOffset": 4.5, "labelOffset": 18, "rowPadding": 3}}
   }},
  {"data": {"name": "cobald"}, "transform": [{"filter": "datum.d === 25"}],
   "mark": {"type": "line", "clip": true, "strokeWidth": 1.8, "strokeJoin": "round"},
   "encoding": {
    "x": {"field": "r", "type": "quantitative", "scale": {"type": "log", "domain": [1, 3], "nice": false}, "axis": {"orient": "top", "offset": -549, "values": [1, 2, 3], "format": "d", "labelFlush": false, "labelOverlap": false, "tickSize": 5, "labelPadding": 3, "labelColor": "red", "domainColor": "#ff6464", "tickColor": "#ff6464", "domainWidth": 1.2, "title": "SR @940nm", "titleColor": "red", "titleFontSize": 17, "titleY": 22, "titleBaseline": "middle", "grid": false}},
    "y": {"field": "a", "type": "quantitative", "scale": {"domain": [0, 30], "nice": false}, "axis": null},
    "detail": {"field": "s", "type": "nominal"},
    "order": {"value": null},
    "color": {"datum": "COBALD", "type": "nominal"}
   }},
  {"data": {"name": "bands"}, "transform": [{"filter": "datum.d === 25"}],
   "mark": {"type": "rect", "opacity": 0.48},
   "encoding": {
    "x": {"field": "c0", "type": "quantitative", "scale": {"type": "log", "domain": [10, 5000], "nice": false}, "axis": {"orient": "bottom", "values": [20, 30, 40, 50, 60, 70, 80, 90, 200, 300, 400, 500, 600, 700, 800, 900, 2000, 3000, 4000], "tickSize": 2.5, "labels": false, "domain": false, "title": null, "grid": false}},
    "x2": {"field": "c1"},
    "y": {"field": "a0", "type": "quantitative", "scale": {"domain": [0, 30], "nice": false}, "axis": {"orient": "left", "values": [1, 2, 3, 4, 6, 7, 8, 9, 11, 12, 13, 14, 16, 17, 18, 19, 21, 22, 23, 24, 26, 27, 28, 29], "tickSize": 2.5, "labels": false, "domain": false, "title": null, "grid": true, "gridDash": [4, 3], "gridColor": "#d4d4d4", "gridWidth": 1}},
    "y2": {"field": "a1"},
    "fill": {"field": "k", "type": "nominal", "scale": {"domain": ["g", "b"], "range": ["#7a7a7a", "#507ac5"]}, "legend": null}
   }}
 ]
},
{
 "width": 274.5, "height": 459,
 "title": {"text": "2021-Aug-26"},
 "resolve": {"scale": {"x": "independent"}, "axis": {"y": "independent"}},
 "layer": [
  {"data": {"name": "popc"}, "transform": [{"filter": "datum.d === 26"}],
   "mark": {"type": "line", "clip": true, "strokeWidth": 1.8, "strokeJoin": "round"},
   "encoding": {
    "x": {"field": "c", "type": "quantitative", "scale": {"type": "log", "domain": [10, 5000], "nice": false}, "axis": {"orient": "bottom", "values": [10, 100, 1000], "labelExpr": "datum.value === 10 ? '10¹' : datum.value === 100 ? '10²' : '10³'", "tickSize": 5, "labelFlush": false, "labelOverlap": false, "labelPadding": 3, "title": "Conc. (#/lpm)", "titlePadding": 8, "grid": false}},
    "y": {"field": "a", "type": "quantitative", "scale": {"domain": [0, 30], "nice": false}, "axis": {"orient": "left", "values": [0, 5, 10, 15, 20, 25, 30], "tickSize": 5, "grid": true, "gridColor": "#dcdcdc", "gridWidth": 1.3, "labels": false, "title": null}},
    "detail": {"field": "s", "type": "nominal"},
    "order": {"value": null},
    "color": {"datum": "POPC >300 nm", "type": "nominal", "scale": {"domain": ["POPC >300 nm", "COBALD"], "range": ["black", "red"]}, "legend": {"orient": "top-right", "offset": 5, "title": null, "fillColor": "white", "strokeColor": "#cccccc", "cornerRadius": 3, "padding": 5, "labelFont": "Liberation Sans", "labelFontSize": 13, "labelColor": "black", "symbolType": "M-1.65,0H1.65", "symbolSize": 196, "symbolStrokeWidth": 2, "symbolOffset": 4.5, "labelOffset": 18, "rowPadding": 3}}
   }},
  {"data": {"name": "cobald"}, "transform": [{"filter": "datum.d === 26"}],
   "mark": {"type": "line", "clip": true, "strokeWidth": 1.8, "strokeJoin": "round"},
   "encoding": {
    "x": {"field": "r", "type": "quantitative", "scale": {"type": "log", "domain": [1, 3], "nice": false}, "axis": {"orient": "top", "offset": -549, "values": [1, 2, 3], "format": "d", "labelFlush": false, "labelOverlap": false, "tickSize": 5, "labelPadding": 3, "labelColor": "red", "domainColor": "#ff6464", "tickColor": "#ff6464", "domainWidth": 1.2, "title": "SR @940nm", "titleColor": "red", "titleFontSize": 17, "titleY": 22, "titleBaseline": "middle", "grid": false}},
    "y": {"field": "a", "type": "quantitative", "scale": {"domain": [0, 30], "nice": false}, "axis": null},
    "detail": {"field": "s", "type": "nominal"},
    "order": {"value": null},
    "color": {"datum": "COBALD", "type": "nominal"}
   }},
  {"data": {"name": "bands"}, "transform": [{"filter": "datum.d === 26"}],
   "mark": {"type": "rect", "opacity": 0.48},
   "encoding": {
    "x": {"field": "c0", "type": "quantitative", "scale": {"type": "log", "domain": [10, 5000], "nice": false}, "axis": {"orient": "bottom", "values": [20, 30, 40, 50, 60, 70, 80, 90, 200, 300, 400, 500, 600, 700, 800, 900, 2000, 3000, 4000], "tickSize": 2.5, "labels": false, "domain": false, "title": null, "grid": false}},
    "x2": {"field": "c1"},
    "y": {"field": "a0", "type": "quantitative", "scale": {"domain": [0, 30], "nice": false}, "axis": {"orient": "left", "values": [1, 2, 3, 4, 6, 7, 8, 9, 11, 12, 13, 14, 16, 17, 18, 19, 21, 22, 23, 24, 26, 27, 28, 29], "tickSize": 2.5, "labels": false, "domain": false, "title": null, "grid": true, "gridDash": [4, 3], "gridColor": "#d4d4d4", "gridWidth": 1}},
    "y2": {"field": "a1"},
    "fill": {"field": "k", "type": "nominal", "scale": {"domain": ["g", "b"], "range": ["#7a7a7a", "#507ac5"]}, "legend": null}
   }}
 ]
},
{
 "width": 274.5, "height": 459,
 "title": {"text": "2021-Aug-27"},
 "resolve": {"scale": {"x": "independent"}, "axis": {"y": "independent"}},
 "layer": [
  {"data": {"name": "popc"}, "transform": [{"filter": "datum.d === 27"}],
   "mark": {"type": "line", "clip": true, "strokeWidth": 1.8, "strokeJoin": "round"},
   "encoding": {
    "x": {"field": "c", "type": "quantitative", "scale": {"type": "log", "domain": [10, 5000], "nice": false}, "axis": {"orient": "bottom", "values": [10, 100, 1000], "labelExpr": "datum.value === 10 ? '10¹' : datum.value === 100 ? '10²' : '10³'", "tickSize": 5, "labelFlush": false, "labelOverlap": false, "labelPadding": 3, "title": "Conc. (#/lpm)", "titlePadding": 8, "grid": false}},
    "y": {"field": "a", "type": "quantitative", "scale": {"domain": [0, 30], "nice": false}, "axis": {"orient": "left", "values": [0, 5, 10, 15, 20, 25, 30], "tickSize": 5, "grid": true, "gridColor": "#dcdcdc", "gridWidth": 1.3, "labels": false, "title": null}},
    "detail": {"field": "s", "type": "nominal"},
    "order": {"value": null},
    "color": {"datum": "POPC > 300 nm", "type": "nominal", "scale": {"domain": ["POPC > 300 nm", "COBALD"], "range": ["black", "red"]}, "legend": {"orient": "top-right", "offset": 5, "title": null, "fillColor": "white", "strokeColor": "#cccccc", "cornerRadius": 3, "padding": 5, "labelFont": "Liberation Sans", "labelFontSize": 13, "labelColor": "black", "symbolType": "M-1.65,0H1.65", "symbolSize": 196, "symbolStrokeWidth": 2, "symbolOffset": 4.5, "labelOffset": 18, "rowPadding": 3}}
   }},
  {"data": {"name": "cobald"}, "transform": [{"filter": "datum.d === 27"}],
   "mark": {"type": "line", "clip": true, "strokeWidth": 1.8, "strokeJoin": "round"},
   "encoding": {
    "x": {"field": "r", "type": "quantitative", "scale": {"type": "log", "domain": [1, 3], "nice": false}, "axis": {"orient": "top", "offset": -549, "values": [1, 2, 3], "format": "d", "labelFlush": false, "labelOverlap": false, "tickSize": 5, "labelPadding": 3, "labelColor": "red", "domainColor": "#ff6464", "tickColor": "#ff6464", "domainWidth": 1.2, "title": "SR @940nm", "titleColor": "red", "titleFontSize": 17, "titleY": 22, "titleBaseline": "middle", "grid": false}},
    "y": {"field": "a", "type": "quantitative", "scale": {"domain": [0, 30], "nice": false}, "axis": null},
    "detail": {"field": "s", "type": "nominal"},
    "order": {"value": null},
    "color": {"datum": "COBALD", "type": "nominal"}
   }},
  {"data": {"name": "bands"}, "transform": [{"filter": "datum.d === 27"}],
   "mark": {"type": "rect", "opacity": 0.48},
   "encoding": {
    "x": {"field": "c0", "type": "quantitative", "scale": {"type": "log", "domain": [10, 5000], "nice": false}, "axis": {"orient": "bottom", "values": [20, 30, 40, 50, 60, 70, 80, 90, 200, 300, 400, 500, 600, 700, 800, 900, 2000, 3000, 4000], "tickSize": 2.5, "labels": false, "domain": false, "title": null, "grid": false}},
    "x2": {"field": "c1"},
    "y": {"field": "a0", "type": "quantitative", "scale": {"domain": [0, 30], "nice": false}, "axis": {"orient": "left", "values": [1, 2, 3, 4, 6, 7, 8, 9, 11, 12, 13, 14, 16, 17, 18, 19, 21, 22, 23, 24, 26, 27, 28, 29], "tickSize": 2.5, "labels": false, "domain": false, "title": null, "grid": true, "gridDash": [4, 3], "gridColor": "#d4d4d4", "gridWidth": 1}},
    "y2": {"field": "a1"},
    "fill": {"field": "k", "type": "nominal", "scale": {"domain": ["g", "b"], "range": ["#7a7a7a", "#507ac5"]}, "legend": null}
   }}
 ]
},
{
 "width": 274.5, "height": 459,
 "title": {"text": "2021-Aug-28"},
 "resolve": {"scale": {"x": "independent"}, "axis": {"y": "independent"}},
 "layer": [
  {"data": {"name": "popc"}, "transform": [{"filter": "datum.d === 28"}],
   "mark": {"type": "line", "clip": true, "strokeWidth": 1.8, "strokeJoin": "round"},
   "encoding": {
    "x": {"field": "c", "type": "quantitative", "scale": {"type": "log", "domain": [10, 5000], "nice": false}, "axis": {"orient": "bottom", "values": [10, 100, 1000], "labelExpr": "datum.value === 10 ? '10¹' : datum.value === 100 ? '10²' : '10³'", "tickSize": 5, "labelFlush": false, "labelOverlap": false, "labelPadding": 3, "title": "Conc. (#/lpm)", "titlePadding": 8, "grid": false}},
    "y": {"field": "a", "type": "quantitative", "scale": {"domain": [0, 30], "nice": false}, "axis": {"orient": "left", "values": [0, 5, 10, 15, 20, 25, 30], "tickSize": 5, "grid": true, "gridColor": "#dcdcdc", "gridWidth": 1.3, "labels": false, "title": null}},
    "detail": {"field": "s", "type": "nominal"},
    "order": {"value": null},
    "color": {"datum": "POPC > 300 nm", "type": "nominal", "scale": {"domain": ["POPC > 300 nm", "COBALD"], "range": ["black", "red"]}, "legend": {"orient": "top-right", "offset": 5, "title": null, "fillColor": "white", "strokeColor": "#cccccc", "cornerRadius": 3, "padding": 5, "labelFont": "Liberation Sans", "labelFontSize": 13, "labelColor": "black", "symbolType": "M-1.65,0H1.65", "symbolSize": 196, "symbolStrokeWidth": 2, "symbolOffset": 4.5, "labelOffset": 18, "rowPadding": 3}}
   }},
  {"data": {"name": "cobald"}, "transform": [{"filter": "datum.d === 28"}],
   "mark": {"type": "line", "clip": true, "strokeWidth": 1.8, "strokeJoin": "round"},
   "encoding": {
    "x": {"field": "r", "type": "quantitative", "scale": {"type": "log", "domain": [1, 3], "nice": false}, "axis": {"orient": "top", "offset": -549, "values": [1, 2, 3], "format": "d", "labelFlush": false, "labelOverlap": false, "tickSize": 5, "labelPadding": 3, "labelColor": "red", "domainColor": "#ff6464", "tickColor": "#ff6464", "domainWidth": 1.2, "title": "SR @940nm", "titleColor": "red", "titleFontSize": 17, "titleY": 22, "titleBaseline": "middle", "grid": false}},
    "y": {"field": "a", "type": "quantitative", "scale": {"domain": [0, 30], "nice": false}, "axis": null},
    "detail": {"field": "s", "type": "nominal"},
    "order": {"value": null},
    "color": {"datum": "COBALD", "type": "nominal"}
   }},
  {"data": {"name": "bands"}, "transform": [{"filter": "datum.d === 28"}],
   "mark": {"type": "rect", "opacity": 0.48},
   "encoding": {
    "x": {"field": "c0", "type": "quantitative", "scale": {"type": "log", "domain": [10, 5000], "nice": false}, "axis": {"orient": "bottom", "values": [20, 30, 40, 50, 60, 70, 80, 90, 200, 300, 400, 500, 600, 700, 800, 900, 2000, 3000, 4000], "tickSize": 2.5, "labels": false, "domain": false, "title": null, "grid": false}},
    "x2": {"field": "c1"},
    "y": {"field": "a0", "type": "quantitative", "scale": {"domain": [0, 30], "nice": false}, "axis": {"orient": "left", "values": [1, 2, 3, 4, 6, 7, 8, 9, 11, 12, 13, 14, 16, 17, 18, 19, 21, 22, 23, 24, 26, 27, 28, 29], "tickSize": 2.5, "labels": false, "domain": false, "title": null, "grid": true, "gridDash": [4, 3], "gridColor": "#d4d4d4", "gridWidth": 1}},
    "y2": {"field": "a1"},
    "fill": {"field": "k", "type": "nominal", "scale": {"domain": ["g", "b"], "range": ["#7a7a7a", "#507ac5"]}, "legend": null}
   }}
 ]
}
]
}
